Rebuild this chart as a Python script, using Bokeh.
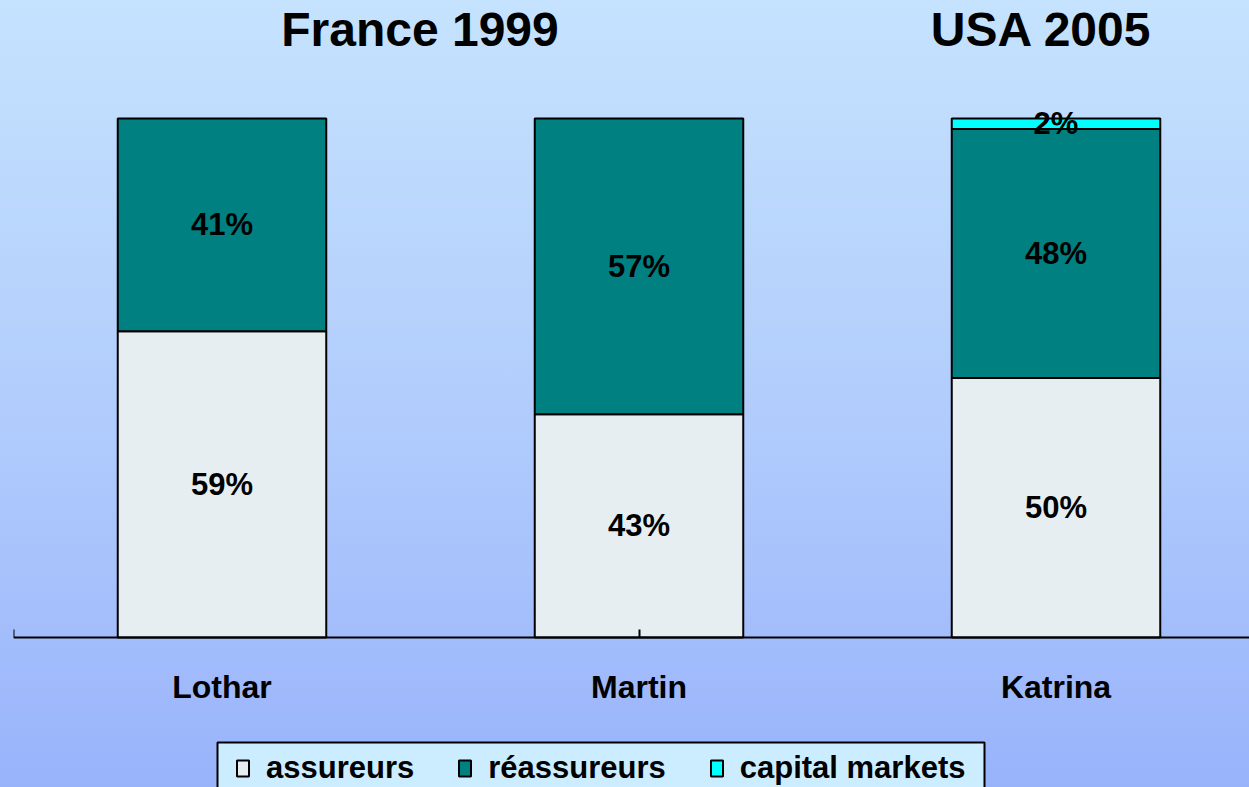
from bokeh.plotting import figure
from bokeh.models import (Range1d, LinearAxis, FixedTicker, Legend, LegendItem, BoxAnnotation,
                          ColumnDataSource, GlobalInlineStyleSheet)
from bokeh.core.properties import value
from bokeh.embed import file_html
from bokeh.resources import INLINE

# ---------------- data ----------------
events = ["Lothar", "Martin", "Katrina"]
assureurs = [59, 43, 50]
reassureurs = [41, 57, 48]
capital_markets = [0, 0, 2]
series_names = ["assureurs", "réassureurs", "capital markets"]
series_colors = ["#E6EEF2", "#008080", "#00FFFF"]
group_titles = ["France 1999", "USA 2005"]

# ---------------- layout ----------------
FONT = "Liberation Sans"
W, H = 1249, 787
PX_PER_CAT = 417.0
PX_PER_PCT = 5.19
FRAME_LEFT = 13
AXIS_Y_PX = 637          # pixel row of the zero line
x_start = -0.5
x_end = x_start + (W - FRAME_LEFT) / PX_PER_CAT
y_start = -(H - AXIS_Y_PX) / PX_PER_PCT
y_end = AXIS_Y_PX / PX_PER_PCT

p = figure(width=W, height=H, x_range=Range1d(x_start, x_end), y_range=Range1d(y_start, y_end),
           x_axis_location=None, y_axis_location=None, toolbar_location=None,
           output_backend="svg", min_border_left=FRAME_LEFT, min_border_right=0,
           min_border_top=0, min_border_bottom=0,
           border_fill_color=None, background_fill_color=None, outline_line_color=None)
p.grid.visible = False

p.stylesheets = [GlobalInlineStyleSheet(css=(
    "html{min-height:100%;background:linear-gradient(to bottom,#C5E3FE 0%,#B0CBFC 55%,#99B3FB 100%);}"
    "body{background:transparent;}"))]

xs = list(range(len(events)))
series = [assureurs, reassureurs, capital_markets]
bottom = [0] * len(events)
renderers = []
label_x, label_y, label_t = [], [], []
for name, vals, color in zip(series_names, series, series_colors):
    top = [b + v for b, v in zip(bottom, vals)]
    keep = [i for i, v in enumerate(vals) if v > 0]
    src = ColumnDataSource(dict(x=[xs[i] for i in keep], bottom=[bottom[i] for i in keep],
                                top=[top[i] for i in keep]))
    r = p.vbar(x="x", bottom="bottom", top="top", width=0.5, source=src,
               fill_color=color, line_color="black", line_width=2)
    renderers.append(r)
    for i in keep:
        label_x.append(xs[i])
        label_y.append((bottom[i] + top[i]) / 2)
        label_t.append(f"{vals[i]}%")
    bottom = top

lab_src = ColumnDataSource(dict(x=label_x, y=label_y, t=label_t))
p.text(x="x", y="y", text="t", source=lab_src, text_align="center", text_baseline="middle",
       text_font=value(FONT), text_font_style="bold", text_font_size="31px", text_color="black")

# group titles
title_src = ColumnDataSource(dict(x=[0.4748, 1.9652], y=[117.15, 117.15], t=group_titles))
p.text(x="x", y="y", text="t", source=title_src, text_align="center", text_baseline="middle",
       text_font=value(FONT), text_font_style="bold", text_font_size="48px", text_color="black")

# axis line with boundary ticks
ax1 = LinearAxis(ticker=FixedTicker(ticks=[-0.5, 1.0, 2.5]), major_tick_in=8, major_tick_out=0,
                 minor_tick_line_color=None, major_label_text_font_size="0px",
                 major_label_standoff=0, major_label_overrides={-0.5: "", 1.0: "", 2.5: ""},
                 axis_line_width=2, axis_line_color="black",
                 major_tick_line_width=2, major_tick_line_color="black", fixed_location=0)
p.add_layout(ax1, "below")

# category labels
ax2 = LinearAxis(ticker=FixedTicker(ticks=xs),
                 major_label_overrides={i: e for i, e in zip(xs, events)},
                 axis_line_color=None, major_tick_line_color=None, minor_tick_line_color=None,
                 major_tick_in=0, major_tick_out=0,
                 major_label_text_font=FONT, major_label_text_font_style="bold",
                 major_label_text_font_size="32px", major_label_text_color="black",
                 major_label_standoff=31, fixed_location=0)
p.add_layout(ax2, "below")

# legend frame (box behind the legend entries); screen units relative to the frame's bottom-left
legend_box = BoxAnnotation(left=204, right=971, top=45, bottom=-15,
                           left_units="screen", right_units="screen",
                           top_units="screen", bottom_units="screen",
                           fill_color="#CCECFF", fill_alpha=1.0,
                           line_color="black", line_alpha=1.0, line_width=2, level="annotation")
p.add_layout(legend_box)

legend = Legend(items=[LegendItem(label=n, renderers=[r]) for n, r in zip(series_names, renderers)],
                orientation="horizontal", location=(222, 1), margin=0,
                label_text_font=FONT, label_text_font_style="bold", label_text_font_size="31px",
                label_text_color="black", glyph_width=15, glyph_height=20, label_standoff=16,
                spacing=43, padding=0, border_line_color=None,
                background_fill_color=None, background_fill_alpha=0.0)
p.add_layout(legend, "center")

open("out.html", "w").write(file_html(p, INLINE))
